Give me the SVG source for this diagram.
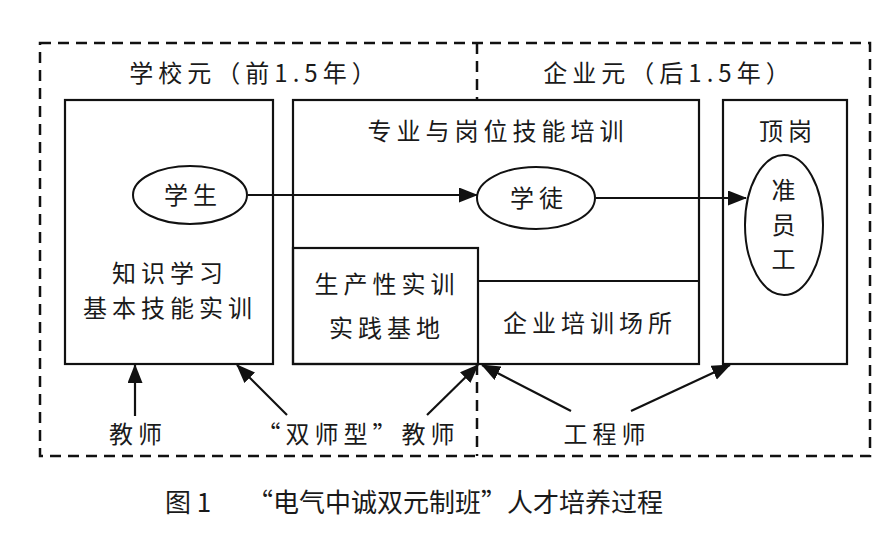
<svg xmlns="http://www.w3.org/2000/svg" width="894" height="535" viewBox="0 0 894 535">
<defs>
<marker id="ah" markerUnits="userSpaceOnUse" markerWidth="20" markerHeight="16" refX="18" refY="7.5" orient="auto">
<path d="M0,0 L19,7.5 L0,15 Z" fill="#111"/>
</marker>
<style>
.box{fill:none;stroke:#111;stroke-width:2.2}
.dash{fill:none;stroke:#111;stroke-width:2.5;stroke-dasharray:11 7}
.ell{fill:#fff;stroke:#111;stroke-width:2}
.con{fill:none;stroke:#111;stroke-width:2.2}
.t{font-family:"Noto Sans CJK SC","Liberation Sans",sans-serif;font-size:24px;fill:#1a1a1a;text-anchor:middle;letter-spacing:5px}
.cap{font-family:"Noto Sans CJK SC","Liberation Serif",serif;font-size:26px;fill:#1a1a1a}
</style>
</defs>
<rect width="894" height="535" fill="#fff"/>

<g id="frame">
<rect class="dash" x="40" y="43" width="830" height="413"/>
<line class="dash" x1="477" y1="43" x2="477" y2="100"/>
<line class="dash" x1="477" y1="364" x2="477" y2="456"/>
<text class="t" x="255" y="82">学校元（前1.5年）</text>
<text class="t" x="669" y="82">企业元（后1.5年）</text>
</g>

<g id="school-box">
<rect class="box" x="65" y="100" width="208" height="264"/>
<text class="t" x="170" y="282">知识学习</text>
<text class="t" x="170" y="317">基本技能实训</text>
</g>

<g id="training-box">
<rect class="box" x="293" y="100" width="406" height="264"/>
<text class="t" x="498" y="140">专业与岗位技能培训</text>
</g>

<g id="practice-base">
<rect class="box" x="293" y="248" width="185" height="116"/>
<text class="t" x="387" y="293">生产性实训</text>
<text class="t" x="387" y="337">实践基地</text>
</g>

<g id="enterprise-site">
<line class="box" x1="478" y1="281" x2="699" y2="281"/>
<text class="t" x="590" y="332">企业培训场所</text>
</g>

<g id="post-box">
<rect class="box" x="723" y="100" width="124" height="264"/>
<text class="t" x="788" y="140">顶岗</text>
</g>

<g id="connectors">
<line class="con" x1="248" y1="195" x2="477" y2="195" marker-end="url(#ah)"/>
<line class="con" x1="596" y1="198" x2="746" y2="198" marker-end="url(#ah)"/>
<line class="con" x1="135" y1="416" x2="135" y2="365" marker-end="url(#ah)"/>
<line class="con" x1="287" y1="415" x2="237" y2="365" marker-end="url(#ah)"/>
<line class="con" x1="427" y1="415" x2="478" y2="365" marker-end="url(#ah)"/>
<line class="con" x1="571" y1="411" x2="482" y2="365" marker-end="url(#ah)"/>
<line class="con" x1="631" y1="411" x2="730" y2="365" marker-end="url(#ah)"/>
</g>

<g id="student">
<ellipse class="ell" cx="190" cy="195" rx="57" ry="29"/>
<text class="t" x="193" y="204">学生</text>
</g>

<g id="apprentice">
<ellipse class="ell" cx="536" cy="198" rx="59" ry="31"/>
<text class="t" x="539" y="207">学徒</text>
</g>

<g id="employee">
<ellipse class="ell" cx="784" cy="225" rx="39" ry="70"/>
<text class="t" x="786" y="199">准</text>
<text class="t" x="786" y="234">员</text>
<text class="t" x="786" y="268">工</text>
</g>

<g id="teachers">
<text class="t" x="138" y="443">教师</text>
<text class="t" x="358" y="443">“双师型”教师</text>
<text class="t" x="607" y="443">工程师</text>
</g>

<g id="caption">
<text class="cap" x="165" y="512">图 1</text>
<text class="cap" x="247" y="512">“电气中诚双元制班”人才培养过程</text>
</g>
</svg>
